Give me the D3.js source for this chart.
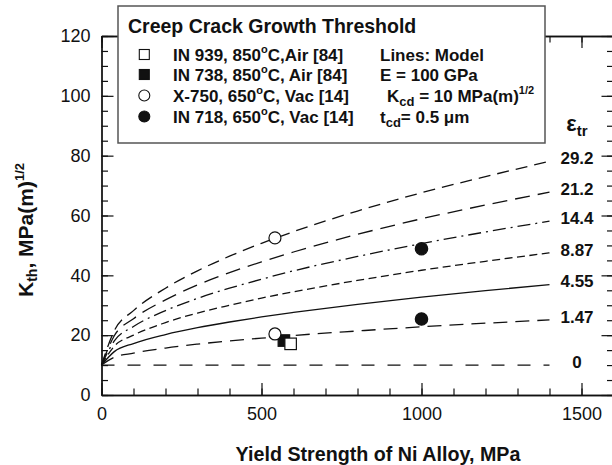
<!DOCTYPE html>
<html>
<head>
<meta charset="utf-8">
<script src="https://cdn.jsdelivr.net/npm/d3@7/dist/d3.min.js"></script>
<style>
  html, body { margin: 0; padding: 0; background: #fff; }
  svg { display: block; font-family: "Liberation Sans", Arial, Helvetica, sans-serif; }
</style>
</head>
<body>
<svg id="chart" width="612" height="465"></svg>
<script>
// Yield strength (MPa) sample positions for the model curves
const strengthMPa = [0, 40, 100, 200, 300, 400, 500, 600, 800, 1000, 1200, 1400];

// Model threshold K_th (MPa·m^1/2) for each transient strain level
const strainLabels = ["29.2", "21.2", "14.4", "8.87", "4.55", "1.47", "0"];
const kStrain29_2 = [10, 21.5, 28.2, 35.7, 41.5, 46.4, 50.7, 54.6, 61.5, 67.6, 73.0, 78.1];
const kStrain21_2 = [10, 19.8, 25.5, 31.8, 36.8, 40.9, 44.5, 47.8, 53.7, 58.9, 63.5, 67.8];
const kStrain14_4 = [10, 18.1, 22.9, 28.2, 32.3, 35.7, 38.7, 41.5, 46.3, 50.6, 54.5, 58.1];
const kStrain8_87 = [10, 16.3, 20.0, 24.2, 27.4, 30.0, 32.4, 34.5, 38.3, 41.7, 44.7, 47.5];
const kStrain4_55 = [10, 14.5, 17.2, 20.2, 22.5, 24.4, 26.1, 27.6, 30.3, 32.7, 34.9, 36.9];
const kStrain1_47 = [10, 12.6, 14.0, 15.7, 17.0, 18.1, 19.0, 19.9, 21.4, 22.8, 24.0, 25.1];
const kStrain0    = [10, 10, 10, 10, 10, 10, 10, 10, 10, 10, 10, 10];

// Measured thresholds: [yield strength MPa, K_th]
const in939 = [[591, 17.1]];
const in738 = [[570, 18.2]];
const x750  = [[542, 52.5], [542, 20.4]];
const in718 = [[1000, 48.9], [1000, 25.4]];

// Axis ticks
const xMajorTicks = [0, 500, 1000, 1500];
const xMinorTicks = d3.range(0, 1601, 100);
const yMajorTicks = [0, 20, 40, 60, 80, 100, 120];
const yMinorTicks = d3.range(0, 121, 5);

const svg = d3.select("#chart");
const ink = "#111";

const x = d3.scaleLinear().domain([0, 1600]).range([101.5, 613.5]);
const y = d3.scaleLinear().domain([0, 120]).range([395, 36]);

// Frame and ticks
function styleAxis(g) {
  g.selectAll("path.domain").attr("stroke", ink).attr("stroke-width", 1.3);
  g.selectAll(".tick line").attr("stroke", ink).attr("stroke-width", 1.2);
  g.selectAll(".tick text").attr("fill", ink).attr("font-size", 18)
    .attr("font-family", "'Liberation Sans', Arial, sans-serif");
}

svg.append("g").attr("transform", `translate(0,${y(0)})`)
  .call(d3.axisBottom(x).tickValues(xMinorTicks).tickSize(-6.5).tickSizeOuter(0).tickFormat(""))
  .call(styleAxis);
svg.append("g").attr("transform", `translate(0,${y(0)})`)
  .call(d3.axisBottom(x).tickValues(xMajorTicks).tickSize(-12).tickSizeOuter(0).tickPadding(12.5).tickFormat(d3.format("d")))
  .call(styleAxis);
svg.append("g").attr("transform", `translate(0,${y(120)})`)
  .call(d3.axisTop(x).tickValues(xMinorTicks).tickSize(-6.5).tickSizeOuter(0).tickFormat(""))
  .call(styleAxis);
svg.append("g").attr("transform", `translate(0,${y(120)})`)
  .call(d3.axisTop(x).tickValues(xMajorTicks).tickSize(-12).tickSizeOuter(0).tickFormat(""))
  .call(styleAxis);

svg.append("g").attr("transform", `translate(${x(0)},0)`)
  .call(d3.axisLeft(y).tickValues(yMinorTicks).tickSize(-6.5).tickSizeOuter(0).tickFormat(""))
  .call(styleAxis);
svg.append("g").attr("transform", `translate(${x(0)},0)`)
  .call(d3.axisLeft(y).tickValues(yMajorTicks).tickSize(-12).tickSizeOuter(0).tickPadding(11).tickFormat(d3.format("d")))
  .call(styleAxis);
svg.append("g").attr("transform", `translate(${x(1600)},0)`)
  .call(d3.axisRight(y).tickValues(yMinorTicks).tickSize(-6.5).tickSizeOuter(0).tickFormat(""))
  .call(styleAxis);
svg.append("g").attr("transform", `translate(${x(1600)},0)`)
  .call(d3.axisRight(y).tickValues(yMajorTicks).tickSize(-12).tickSizeOuter(0).tickFormat(""))
  .call(styleAxis);

// Model curves
const curves = [
  { label: "29.2", k: kStrain29_2, dash: "12,7" },
  { label: "21.2", k: kStrain21_2, dash: "15,8" },
  { label: "14.4", k: kStrain14_4, dash: "13,5,2,5" },
  { label: "8.87", k: kStrain8_87, dash: "8,4.5" },
  { label: "4.55", k: kStrain4_55, dash: null },
  { label: "1.47", k: kStrain1_47, dash: "14,8" },
  { label: "0",    k: kStrain0,    dash: "13,13" }
];

const line = d3.line()
  .x((d, i) => x(strengthMPa[i]))
  .y(d => y(d))
  .curve(d3.curveMonotoneX);

const curveG = svg.append("g");
curves.forEach(c => {
  curveG.append("path")
    .attr("d", line(c.k))
    .attr("fill", "none")
    .attr("stroke", ink)
    .attr("stroke-width", 1.3)
    .attr("stroke-dasharray", c.dash);
  const last = c.k[c.k.length - 1];
  svg.append("text")
    .attr("x", 577)
    .attr("y", y(last) - 3.5)
    .attr("dy", "0.36em")
    .attr("text-anchor", "middle")
    .attr("font-size", 17)
    .attr("font-weight", "bold")
    .attr("fill", ink)
    .text(c.label);
});

// Strain column header
const eps = svg.append("text")
  .attr("x", 577).attr("y", 131)
  .attr("text-anchor", "middle")
  .attr("font-weight", "bold").attr("fill", ink);
eps.append("tspan").attr("font-size", 22).text("ε");
eps.append("tspan").attr("font-size", 15).attr("dy", 5).text("tr");

// Measured data points
const pts = svg.append("g").attr("stroke", ink).attr("stroke-width", 1.2);
const sq = 11.5;
pts.selectAll("rect.in738").data(in738).join("rect")
  .attr("x", d => x(d[0]) - sq / 2).attr("y", d => y(d[1]) - sq / 2)
  .attr("width", sq).attr("height", sq).attr("fill", ink);
pts.selectAll("rect.in939").data(in939).join("rect")
  .attr("x", d => x(d[0]) - sq / 2).attr("y", d => y(d[1]) - sq / 2)
  .attr("width", sq).attr("height", sq).attr("fill", "#fff");
pts.selectAll("circle.x750").data(x750).join("circle")
  .attr("cx", d => x(d[0])).attr("cy", d => y(d[1])).attr("r", 6).attr("fill", "#fff");
pts.selectAll("circle.in718").data(in718).join("circle")
  .attr("cx", d => x(d[0])).attr("cy", d => y(d[1])).attr("r", 6.2).attr("fill", ink);

// Axis titles
const xt = svg.append("text")
  .attr("x", 378).attr("y", 461)
  .attr("text-anchor", "middle")
  .attr("font-size", 19.7).attr("font-weight", "bold").attr("fill", ink)
  .text("Yield Strength of Ni Alloy, MPa");

const yt = svg.append("text")
  .attr("transform", "translate(33,230) rotate(-90)")
  .attr("text-anchor", "middle")
  .attr("font-weight", "bold").attr("fill", ink).attr("font-size", 21);
yt.append("tspan").text("K");
yt.append("tspan").attr("font-size", 14).attr("dy", 4).text("th");
yt.append("tspan").attr("dy", -4).text(", MPa(m)");
yt.append("tspan").attr("font-size", 13).attr("dy", -9).text("1/2");

// Legend box
const lg = svg.append("g");
lg.append("rect")
  .attr("x", 118).attr("y", 6).attr("width", 427).attr("height", 137)
  .attr("fill", "#fff").attr("stroke", "#555").attr("stroke-width", 1.5);

lg.append("text").attr("x", 128).attr("y", 33)
  .attr("font-size", 19.5).attr("font-weight", "bold").attr("fill", ink)
  .text("Creep Crack Growth Threshold");

const legendRows = [
  { name: "IN 939, 850", rest: "C,Air [84]", marker: "square", fill: "#fff" },
  { name: "IN 738, 850", rest: "C, Air [84]", marker: "square", fill: ink },
  { name: "X-750, 650", rest: "C, Vac [14]", marker: "circle", fill: "#fff" },
  { name: "IN 718, 650", rest: "C, Vac [14]", marker: "circle", fill: ink }
];
const rowBase = [61, 81, 102, 123];

legendRows.forEach((r, i) => {
  const cy = rowBase[i] - 6.5;
  if (r.marker === "square") {
    lg.append("rect").attr("x", 144.3 - 5).attr("y", cy - 5).attr("width", 10).attr("height", 10)
      .attr("fill", r.fill).attr("stroke", ink).attr("stroke-width", 1.1);
  } else {
    lg.append("circle").attr("cx", 144.3).attr("cy", cy).attr("r", 5.5)
      .attr("fill", r.fill).attr("stroke", ink).attr("stroke-width", 1.1);
  }
  const t = lg.append("text").attr("x", 173).attr("y", rowBase[i])
    .attr("font-size", 17).attr("font-weight", "bold").attr("fill", ink);
  t.append("tspan").text(r.name);
  t.append("tspan").attr("font-size", 11).attr("dy", -8).text("o");
  t.append("tspan").attr("dy", 8).text(r.rest);
});

// Model parameters column
const paramX = 380;
lg.append("text").attr("x", paramX).attr("y", rowBase[0])
  .attr("font-size", 17).attr("font-weight", "bold").attr("fill", ink).text("Lines: Model");
lg.append("text").attr("x", paramX).attr("y", rowBase[1])
  .attr("font-size", 17).attr("font-weight", "bold").attr("fill", ink).text("E = 100 GPa");
const kcd = lg.append("text").attr("x", paramX + 7).attr("y", rowBase[2])
  .attr("font-size", 17).attr("font-weight", "bold").attr("fill", ink);
kcd.append("tspan").text("K");
kcd.append("tspan").attr("font-size", 13).attr("dy", 4).text("cd");
kcd.append("tspan").attr("dy", -4).text(" = 10 MPa(m)");
kcd.append("tspan").attr("font-size", 11).attr("dy", -8).text("1/2");
const tcd = lg.append("text").attr("x", paramX).attr("y", rowBase[3])
  .attr("font-size", 17).attr("font-weight", "bold").attr("fill", ink);
tcd.append("tspan").text("t");
tcd.append("tspan").attr("font-size", 13).attr("dy", 4).text("cd");
tcd.append("tspan").attr("dy", -4).text("= 0.5 μm");
</script>
</body>
</html>
